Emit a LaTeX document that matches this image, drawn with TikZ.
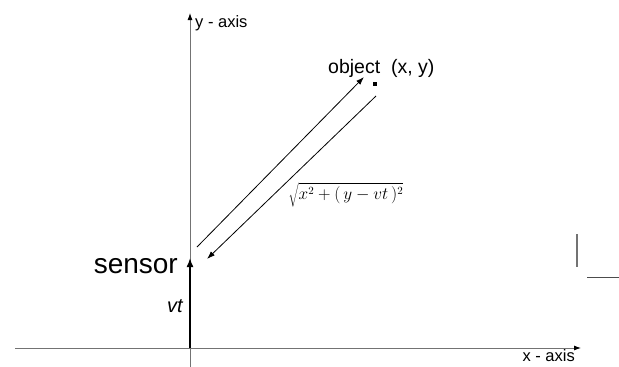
\documentclass[tikz,border=0pt]{standalone}
\usepackage{fontspec}
\setmainfont{Liberation Sans}
\usetikzlibrary{arrows.meta,positioning}

\begin{document}
\begin{tikzpicture}[
    x=1pt, y=-1pt,
    font=\fontsize{16.5}{18}\selectfont,
    axis/.style={-{Latex[length=7pt,width=5pt,color=black]}, black!55, line width=0.9pt},
    ray/.style={-{Latex[length=8pt,width=5.5pt]}, line width=0.8pt},
    lbl/.style={inner sep=0pt},
  ]
    \useasboundingbox (0,0) rectangle (619,367);
    % axes
    \coordinate (o) at (190,348);
    \coordinate (ybot) at (190,367);
    \coordinate (ytop) at (190,13);
    \coordinate (xleft) at (15,348);
    \coordinate (xright) at (581,348);
    \draw[axis] (ybot) -- (ytop);
    \draw[axis] (xleft) -- (xright);
    \node[lbl, anchor=base west] (ylbl) at (195,27) {y - axis};
    \node[lbl, anchor=base east] (xlbl) at (575,361) {x - axis};
    % object and sensor
    \node[fill, inner sep=0pt, minimum size=3.5pt] (obj) at (375,84) {};
    \node[lbl, anchor=base west, font=\fontsize{19.5}{21}\selectfont] (objlbl) at (328,73) {object~ (x, y)};
    \coordinate (sen) at (190,258);
    \draw[-{Latex[length=9pt,width=7pt]}, line width=1.6pt] (o) -- (sen);
    \node[lbl, anchor=base east, font=\fontsize{28}{30}\selectfont] (senlbl) at (178,273) {sensor};
    \node[lbl, anchor=base east, font=\fontsize{20}{22}\selectfont\itshape] (vtlbl) at (183,312) {vt};
    % signal out and back
    \coordinate (out0) at (197,247);
    \coordinate (out1) at (364,77);
    \coordinate (back0) at (376,96);
    \coordinate (back1) at (207,259);
    \draw[ray] (out0) -- (out1);
    \draw[ray] (back0) -- (back1);
    \node[lbl, font=\fontsize{16}{18}\selectfont] (dist) at (346,195) {$\sqrt{x^2+(\,y-vt\,)^2}$};
    % stray marks
    \draw[black!55, line width=1.2pt] (577,234) -- (577,267);
    \draw[black!70, line width=1pt] (587,277) -- (619,277);
\end{tikzpicture}
\end{document}
